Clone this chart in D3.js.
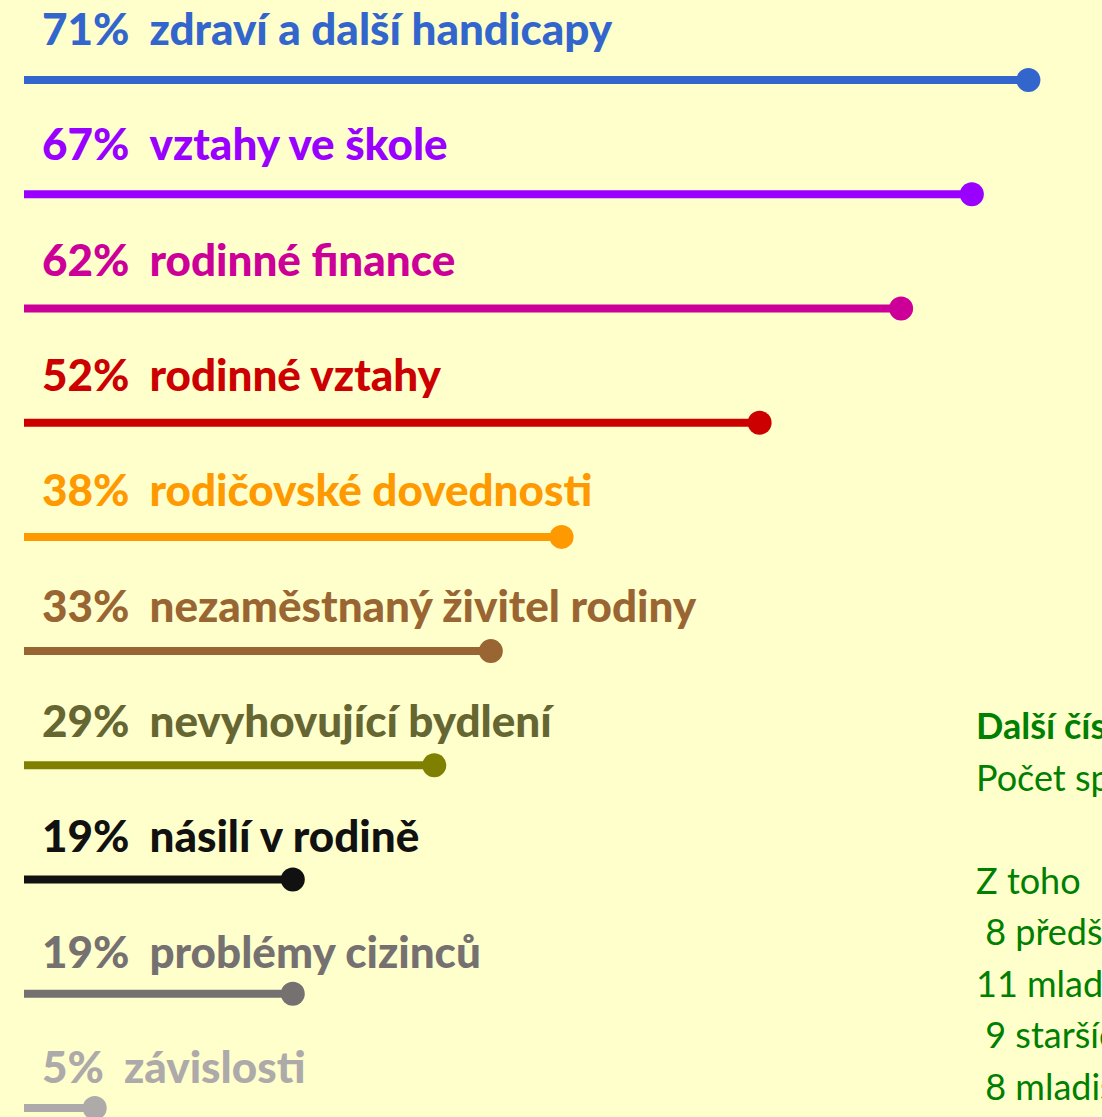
<!DOCTYPE html>
<html>
<head>
<meta charset="utf-8">
<script src="https://cdn.jsdelivr.net/npm/d3@7"></script>
<style>
  html, body { margin: 0; padding: 0; background: #ffffcc; }
  svg { display: block; }
  text { font-family: Lato, "Open Sans", sans-serif; }
</style>
</head>
<body>
<div id="chart"></div>
<script>
// Problem areas (share of cases)
const labels = [
    "zdraví a další handicapy",
    "vztahy ve škole",
    "rodinné finance",
    "rodinné vztahy",
    "rodičovské dovednosti",
    "nezaměstnaný živitel rodiny",
    "nevyhovující bydlení",
    "násilí v rodině",
    "problémy cizinců",
    "závislosti"
];
const values = [71, 67, 62, 52, 38, 33, 29, 19, 19, 5];
const lineColors = ["#3366cc", "#9900ff", "#cc0099", "#cc0000", "#ff9900",
                    "#996633", "#808000", "#111111", "#767171", "#aeaaaa"];
const textColors = ["#3366cc", "#9900ff", "#cc0099", "#cc0000", "#ff9900",
                    "#996633", "#666633", "#111111", "#767171", "#aeaaaa"];

// side note box (cut off by the slide edge)
const noteLines = [
    { text: "Další čísla", bold: true },
    { text: "Počet spisů 36", bold: false },
    { text: "", bold: false },
    { text: "Z toho", bold: false },
    { text: " 8 předškoláků", bold: false },
    { text: "11 mladších školáků", bold: false },
    { text: " 9 starších školáků", bold: false },
    { text: " 8 mladistvých", bold: false }
];

const width = 1102, height = 1117;

const svg = d3.select("#chart")
    .append("svg")
    .attr("width", width)
    .attr("height", height);

const rows = labels.map((l, i) => ({ label: l, value: values[i], line: lineColors[i], color: textColors[i] }));

// label baselines and line positions share the same categories
const yText = d3.scalePoint()
    .domain(labels)
    .range([45, 1083]);

const yLine = d3.scalePoint()
    .domain(labels)
    .range([80, 1108]);

const x = d3.scaleLinear()
    .domain([0, 75])
    .range([24, 1085]);

const g = svg.selectAll(".row")
    .data(rows)
    .enter()
    .append("g")
    .attr("class", "row");

// label: "71%  zdraví a další handicapy"
const lbl = g.append("text")
    .attr("x", 42)
    .attr("y", d => yText(d.label))
    .attr("fill", d => d.color)
    .attr("font-size", "44px")
    .attr("font-weight", 900);
lbl.append("tspan").text(d => d.value + "%");
lbl.append("tspan").attr("dx", 20).text(d => d.label);

// lollipop line
g.append("line")
    .attr("x1", x(0))
    .attr("x2", d => x(d.value))
    .attr("y1", d => yLine(d.label))
    .attr("y2", d => yLine(d.label))
    .attr("stroke", d => d.line)
    .attr("stroke-width", 8);

g.append("circle")
    .attr("cx", d => x(d.value))
    .attr("cy", d => yLine(d.label))
    .attr("r", 12)
    .attr("fill", d => d.line);

// note text on the right
svg.append("g")
    .selectAll("text")
    .data(noteLines)
    .enter()
    .append("text")
    .attr("x", 976)
    .attr("y", (d, i) => 739 + i * 51.5)
    .attr("fill", "#008000")
    .attr("font-size", "36px")
    .attr("font-weight", d => d.bold ? "bold" : "normal")
    .style("white-space", "pre")
    .text(d => d.text);
</script>
</body>
</html>
